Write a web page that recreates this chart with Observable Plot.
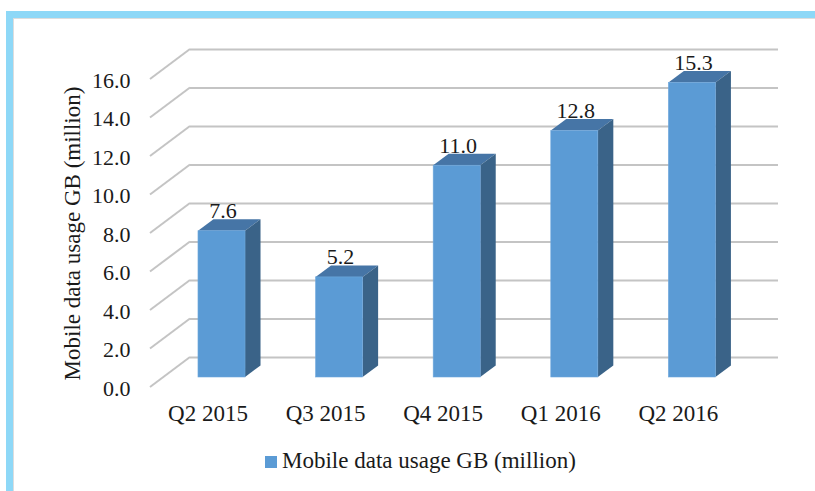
<!DOCTYPE html>
<html>
<head>
<meta charset="utf-8">
<script src="https://cdn.jsdelivr.net/npm/d3@7"></script>
<script src="https://cdn.jsdelivr.net/npm/@observablehq/plot@0.6"></script>
<style>
  html, body { margin: 0; padding: 0; background: #fff; }
  #wrap { position: relative; width: 815px; height: 491px; overflow: hidden; font-family: 'Liberation Serif', 'Times New Roman', serif; }
  #frame { position: absolute; left: 6px; top: 11px; width: 820px; height: 500px; border-top: 7px solid #8ED8F7; border-left: 7px solid #8ED8F7; box-sizing: border-box; }
  #frameInner { position: absolute; left: 13px; top: 18px; width: 820px; height: 500px; border-top: 1px solid #DDDDDD; border-left: 1px solid #DDDDDD; box-sizing: border-box; }
  #chart { position: absolute; left: 0; top: 0; }
  #legend { position: absolute; left: 265px; top: 448px; display: flex; align-items: center; font-size: 23px; color: #1a1a1a; white-space: nowrap; }
  #legend .sw { width: 12px; height: 12px; background: #5B9BD5; margin-right: 5px; margin-top: 1px; }
</style>
</head>
<body>
<div id="wrap">
  <div id="frame"></div>
  <div id="frameInner"></div>
  <div id="chart"></div>
  <div id="legend"><span class="sw"></span><span id="legendText"></span></div>
</div>
<script>
const categories = ["Q2 2015", "Q3 2015", "Q4 2015", "Q1 2016", "Q2 2016"];
const usage = [7.6, 5.2, 11.0, 12.8, 15.3];
const yTicks = [0, 2, 4, 6, 8, 10, 12, 14, 16];
const yTitle = "Mobile data usage GB (million)";
const seriesName = "Mobile data usage GB (million)";

const data = categories.map((q, i) => ({q, v: usage[i]}));

const FRONT = "#5B9BD5", TOP = "#4675A6", SIDE = "#3A6388", GRID = "#C4C4C4";
const DEPTH_X = 15.5, DEPTH_Y = -11.5;

function gridDiagonals(index, scales, values, dimensions) {
  const g = d3.create("svg:g");
  const x0 = dimensions.marginLeft - 12.7, x1 = dimensions.marginLeft + 27.3;
  for (const t of yTicks) {
    const y = scales.y(t);
    g.append("line")
      .attr("x1", x0).attr("y1", y + 10)
      .attr("x2", x1).attr("y2", y - 20)
      .attr("stroke", GRID).attr("stroke-width", 2);
  }
  return g.node();
}

function barDepth(index, scales, values, dimensions) {
  const g = d3.create("svg:g");
  const bw = scales.x.bandwidth ? scales.x.bandwidth() : 47;
  const y0 = scales.y(0);
  for (const d of data) {
    const xl = scales.x(d.q), xr = xl + bw, yt = scales.y(d.v);
    g.append("polygon")
      .attr("points", [[xl, yt], [xl + DEPTH_X, yt + DEPTH_Y], [xr + DEPTH_X, yt + DEPTH_Y], [xr, yt]].map(p => p.join(",")).join(" "))
      .attr("fill", TOP);
    g.append("polygon")
      .attr("points", [[xr, yt], [xr + DEPTH_X, yt + DEPTH_Y], [xr + DEPTH_X, y0 + DEPTH_Y], [xr, y0]].map(p => p.join(",")).join(" "))
      .attr("fill", SIDE);
  }
  return g.node();
}

const plot = Plot.plot({
  width: 815,
  height: 440,
  marginLeft: 162.7,
  marginRight: 64.3,
  marginTop: 69,
  marginBottom: 63,
  style: {fontFamily: "'Liberation Serif', 'Times New Roman', serif", background: "transparent", color: "#1a1a1a", fontSize: "22px"},
  x: {domain: categories, paddingInner: 0.6, paddingOuter: 0.3, round: false, label: null},
  y: {domain: [0, 16], label: null},
  marks: [
    Plot.ruleY(yTicks, {y: d => d, dy: -20, dx: 27.3, stroke: GRID, strokeWidth: 2}),
    gridDiagonals,
    barDepth,
    Plot.barY(data, {x: "q", y: "v", fill: FRONT, stroke: "#6FA8DC", strokeWidth: 0.6}),
    Plot.text(data, {x: "q", y: "v", text: d => d.v.toFixed(1), dy: -20, dx: 1, fontSize: 22, fill: "#1a1a1a"}),
    Plot.axisY(yTicks, {tickFormat: d => d.toFixed(1), tickSize: 0, tickPadding: 32.7, dy: 11, fontSize: 22, label: null}),
    Plot.axisX({tickSize: 0, tickPadding: 27, dx: -14, fontSize: 23, label: null}),
    Plot.text([yTitle], {text: d => d, frameAnchor: "left", textAnchor: "middle", rotate: -90, dx: 72 - 162.7, dy: 10, fontSize: 23, fill: "#1a1a1a"})
  ]
});
document.getElementById("chart").appendChild(plot);
document.getElementById("legendText").textContent = seriesName;
</script>
</body>
</html>
